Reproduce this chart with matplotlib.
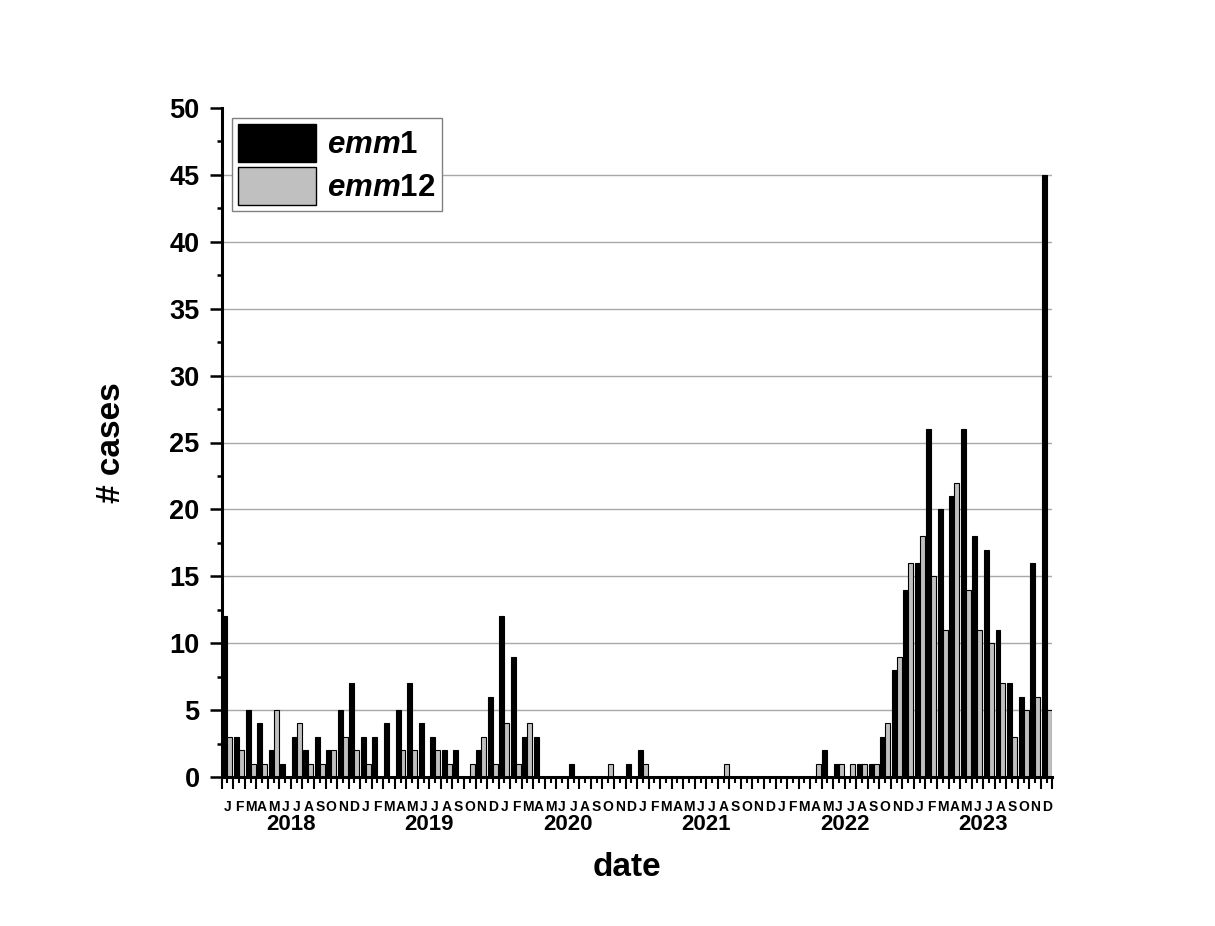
import matplotlib
matplotlib.use("Agg")
import matplotlib.pyplot as plt
import matplotlib.transforms as mtransforms
from matplotlib.patches import Patch
from matplotlib.ticker import FixedLocator, MultipleLocator
import numpy as np

plt.rcParams['font.family'] = ['Liberation Sans', 'DejaVu Sans']
plt.rcParams['font.weight'] = 'bold'
plt.rcParams['mathtext.fontset'] = 'custom'
plt.rcParams['mathtext.bf'] = 'Liberation Sans:bold'
plt.rcParams['mathtext.bfit'] = 'Liberation Sans:italic:bold'
plt.rcParams['mathtext.it'] = 'Liberation Sans:italic:bold'
plt.rcParams['mathtext.rm'] = 'Liberation Sans:bold'

# Monthly case counts, Jan 2018 - Dec 2023
years = ['2018', '2019', '2020', '2021', '2022', '2023']
month_letters = ['J', 'F', 'M', 'A', 'M', 'J', 'J', 'A', 'S', 'O', 'N', 'D']

emm1 = [
    12, 3, 5, 4, 2, 1, 3, 2, 3, 2, 5, 7,      # 2018
    3, 3, 4, 5, 7, 4, 3, 2, 2, 0, 2, 6,       # 2019
    12, 9, 3, 3, 0, 0, 1, 0, 0, 0, 0, 1,      # 2020
    2, 0, 0, 0, 0, 0, 0, 0, 0, 0, 0, 0,       # 2021
    0, 0, 0, 0, 2, 1, 0, 1, 1, 3, 8, 14,      # 2022
    16, 26, 20, 21, 26, 18, 17, 11, 7, 6, 16, 45,  # 2023
]
emm12 = [
    3, 2, 1, 1, 5, 0, 4, 1, 1, 2, 3, 2,       # 2018
    1, 0, 0, 2, 2, 0, 2, 1, 0, 1, 3, 1,       # 2019
    4, 1, 4, 0, 0, 0, 0, 0, 0, 1, 0, 0,       # 2020
    1, 0, 0, 0, 0, 0, 0, 1, 0, 0, 0, 0,       # 2021
    0, 0, 0, 1, 0, 1, 1, 1, 1, 4, 9, 16,      # 2022
    18, 15, 11, 22, 14, 11, 10, 7, 3, 5, 6, 5,  # 2023
]
series_labels = [r'$\mathbfit{emm}\mathbf{1}$', r'$\mathbfit{emm}\mathbf{12}$']

W, H = 1215, 926
fig = plt.figure(figsize=(W / 100, H / 100), dpi=100)
fig.patch.set_facecolor('white')

x0, x1, y0, y1 = 221.7, 1052.4, 108, 777
ax = fig.add_axes([x0 / W, 1 - y1 / H, (x1 - x0) / W, (y1 - y0) / H])

n = len(emm1)
x = np.arange(n)
w = 0.43
ax.bar(x - w / 2, emm1, width=w, color='black', edgecolor='black',
       linewidth=0.8, zorder=3)
ax.bar(x + w / 2, emm12, width=w, color='#c0c0c0', edgecolor='black',
       linewidth=0.8, zorder=3)

ax.set_xlim(-0.5, n - 0.5)
ax.set_ylim(0, 50)

# horizontal reference lines
yticks = list(range(0, 55, 5))
for v in yticks[1:-1]:
    ax.axhline(v, color='#a8a8a8', linewidth=1.0, zorder=1)

for side in ('top', 'right'):
    ax.spines[side].set_visible(False)
for side in ('left', 'bottom'):
    ax.spines[side].set_linewidth(2.2)
    ax.spines[side].set_zorder(5)

# y axis
ax.set_yticks(yticks)
ax.yaxis.set_minor_locator(MultipleLocator(2.5))
ax.tick_params(axis='y', which='major', direction='out', length=8.4,
               width=1.8, pad=7.5, labelsize=19.5)
ax.tick_params(axis='y', which='minor', direction='out', length=3.8,
               width=1.8)

# x axis: month letters at centres, long ticks at month boundaries
ax.set_xticks(x)
ax.set_xticklabels(month_letters * len(years), fontsize=10, fontweight='bold')
ax.xaxis.set_minor_locator(FixedLocator(np.arange(-0.5, n, 1.0)))
ax.tick_params(axis='x', which='major', direction='out', length=4.0,
               width=1.5, pad=12.5)
ax.tick_params(axis='x', which='minor', direction='out', length=8.6,
               width=1.5)

trans = mtransforms.blended_transform_factory(ax.transData, ax.transAxes)
for k, yr in enumerate(years):
    ax.text(5.5 + 12 * k, (y1 - 824.5) / (y1 - y0), yr, transform=trans,
            ha='center', va='center', fontsize=16, fontweight='bold')

fig.text(112 / W, 1 - 443 / H, '# cases', rotation=90, ha='center',
         va='center', fontsize=24, fontweight='bold')
fig.text(626.7 / W, 1 - 867 / H, 'date', ha='center', va='center',
         fontsize=24, fontweight='bold')

handles = [
    Patch(facecolor='black', edgecolor='black', linewidth=1.0),
    Patch(facecolor='#c0c0c0', edgecolor='black', linewidth=1.0),
]
leg = ax.legend(handles, series_labels, loc='upper left',
                bbox_to_anchor=((232 - x0) / (x1 - x0), (y1 - 118) / (y1 - y0)),
                borderaxespad=0, fontsize=22.5, handlelength=2.48,
                handleheight=1.48, labelspacing=0.17, borderpad=0.2,
                handletextpad=0.36, fancybox=False, framealpha=1,
                edgecolor='#808080')
leg.get_frame().set_linewidth(1.0)
leg.set_zorder(6)

fig.savefig('out.png', dpi=100, facecolor='white')
